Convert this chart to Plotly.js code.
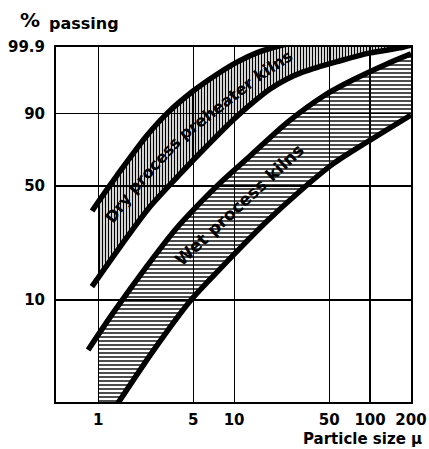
<!DOCTYPE html>
<html><head><meta charset="utf-8">
<script src="https://cdn.plot.ly/plotly-3.0.1.min.js"></script>
<style>html,body{margin:0;padding:0;background:#fff;} #chart{width:429px;height:449px;}</style>
</head><body><div id="chart"></div>
<script>
// Particle size (micron) and % passing
const dryUpperSize    = [0.903, 1.034, 1.379, 2.293, 3.27, 5.0, 7.50, 10.5, 14.8, 20.0, 40];
const dryUpperPassing = [36.8, 42.7, 56.3, 79.9, 90.4, 96.45, 98.78, 99.54, 99.816, 99.9, 99.97];

const dryLowerSize    = [0.90, 1.451, 2.332, 4.01, 5.62, 10.0, 13.56, 18.4, 24.5, 32.2, 42.9, 57.2, 100, 166, 200];
const dryLowerPassing = [12.3, 22.4, 37.8, 57.1, 69.8, 87.8, 93.5, 96.83, 98.29, 98.97, 99.33, 99.56, 99.81, 99.89, 99.92];

const wetUpperSize    = [0.844, 1.289, 2.293, 3.68, 5.62, 7.89, 13.1, 24.9, 46.7, 75, 133, 200];
const wetUpperPassing = [4.5, 8.15, 16.9, 28.5, 40.8, 51.8, 68.0, 86.5, 95.6, 98.2, 99.46, 99.79];

const wetLowerSize    = [1.30, 2.54, 4.75, 7.13, 11.07, 17.5, 30.6, 53.4, 95, 200];
const wetLowerPassing = [1.7, 4.44, 9.85, 14.7, 22.0, 32.2, 47.2, 63.2, 76.2, 89.4];

const xTickVals = [1, 5, 10, 50, 100, 200];
const xTickText = ['1', '5', '10', '50', '100', '200'];
const yTickVals = [10, 50, 90, 99.9];
const yTickText = ['10', '50', '90', '99.9'];

const xMin = 0.49, xMax = 200;
const yMin = 1.93, yMax = 99.9;
const hatchStart = 1;

// Rosin-Rammler (RRSB) ordinate
function rr(p) { return Math.log(Math.log(100 / (100 - p))); }
const tMin = rr(yMin), tMax = rr(yMax);

function clipFrom(xs, ps, xmin) {
  const ts = ps.map(rr);
  const out = [];
  for (let i = 0; i < xs.length; i++) {
    if (xs[i] >= xmin) {
      if (out.length === 0) {
        if (i > 0) {
          const a = Math.log10(xs[i-1]), b = Math.log10(xs[i]);
          const f = (Math.log10(xmin) - a) / (b - a);
          out.push([xmin, ts[i-1] + f * (ts[i] - ts[i-1])]);
        } else {
          out.push([xmin, tMin - 0.3]);
        }
      }
      out.push([xs[i], ts[i]]);
    }
  }
  return out;
}

function band(ux, up, lx, lp, shape, size, solidity) {
  const u = clipFrom(ux, up, hatchStart);
  const l = clipFrom(lx, lp, hatchStart).reverse();
  const poly = u.concat(l);
  return {
    x: poly.map(p => p[0]), y: poly.map(p => p[1]),
    mode: 'none', fill: 'toself', fillcolor: 'rgba(0,0,0,0)',
    fillpattern: {shape: shape, fgcolor: '#000', bgcolor: 'rgba(0,0,0,0)', size: size, solidity: solidity},
    hoverinfo: 'skip', showlegend: false
  };
}

function curve(xs, ps) {
  return {
    x: xs, y: ps.map(rr), mode: 'lines',
    line: {color: '#000', width: 5.5, shape: 'spline', smoothing: 0.8},
    hoverinfo: 'skip', showlegend: false
  };
}

const data = [
  band(dryUpperSize, dryUpperPassing, dryLowerSize, dryLowerPassing, '|', 3, 0.45),
  band(wetUpperSize, wetUpperPassing, wetLowerSize, wetLowerPassing, '-', 4, 0.35),
  curve(dryUpperSize, dryUpperPassing),
  curve(dryLowerSize, dryLowerPassing),
  curve(wetUpperSize, wetUpperPassing),
  curve(wetLowerSize, wetLowerPassing)
];

const tickFont = {family: 'DejaVu Sans', size: 15, color: '#000', weight: 'bold'};
const axisCommon = {
  showgrid: true, gridcolor: '#000', gridwidth: 1.2,
  showline: true, linecolor: '#000', linewidth: 2, mirror: true,
  ticks: '', zeroline: false, tickfont: tickFont, fixedrange: true
};

const bandFont = {family: 'DejaVu Sans', size: 16, color: '#000', weight: 'bold'};
function word(text, x, y, ang, size) {
  return {text: text, xref: 'paper', yref: 'paper', x: x, y: y, textangle: ang,
          showarrow: false, xanchor: 'center', yanchor: 'middle',
          font: Object.assign({}, bandFont, {size: size})};
}

const layout = {
  width: 429, height: 449,
  margin: {l: 56, r: 18, t: 47, b: 47, pad: 0},
  paper_bgcolor: '#fff', plot_bgcolor: '#fff',
  showlegend: false,
  xaxis: Object.assign({}, axisCommon, {
    type: 'log', range: [Math.log10(xMin), Math.log10(xMax)],
    tickmode: 'array', tickvals: xTickVals, ticktext: xTickText, ticklabelstandoff: 3
  }),
  yaxis: Object.assign({}, axisCommon, {
    range: [tMin, tMax],
    tickmode: 'array', tickvals: yTickVals.map(rr), ticktext: yTickText, ticklabelstandoff: 6
  }),
  annotations: [
    word('Dry', 0.1735, 0.5462, -54, 16),
    word('process', 0.2752, 0.6673, -47.7, 16),
    word('preheater', 0.4513, 0.8276, -38, 16),
    word('kilns', 0.6138, 0.9468, -33.4, 16),
    word('Wet process kilns', 0.5155, 0.555, -43, 17),
    {text: '%', xref: 'paper', yref: 'paper', x: -0.107, y: 1.076, xanchor: 'left', yanchor: 'middle',
     showarrow: false, font: {family: 'DejaVu Sans', size: 20, color: '#000', weight: 'bold'}},
    {text: 'passing', xref: 'paper', yref: 'paper', x: -0.025, y: 1.066, xanchor: 'left', yanchor: 'middle',
     showarrow: false, font: {family: 'DejaVu Sans', size: 16, color: '#000', weight: 'bold'}},
    {text: 'Particle size μ', xref: 'paper', yref: 'paper', x: 1.0366, y: -0.104, xanchor: 'right', yanchor: 'middle',
     showarrow: false, font: {family: 'DejaVu Sans', size: 15, color: '#000', weight: 'bold'}}
  ]
};

Plotly.newPlot('chart', data, layout, {staticPlot: true, displayModeBar: false});
</script>
</body></html>
